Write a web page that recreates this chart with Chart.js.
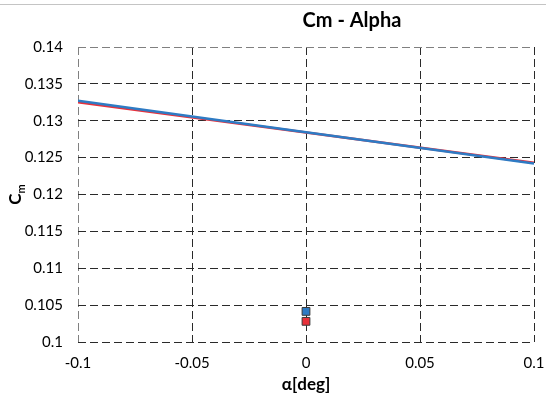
<!DOCTYPE html>
<html>
<head>
<meta charset="utf-8">
<script src="https://cdn.jsdelivr.net/npm/chart.js@4.4.0/dist/chart.umd.min.js"></script>
<style>
  body { margin: 0; background: #fff; }
  #wrap { position: relative; width: 546px; height: 399px; }
  #topline { position: absolute; left: 0; top: 4px; width: 546px; height: 1px; background: #c4c4c4; }
</style>
</head>
<body>
<div id="wrap">
  <canvas id="cm-alpha" width="546" height="399"></canvas>
  <div id="topline"></div>
</div>
<script>
// values
const alpha = [-0.1, 0, 0.1];
const cmLineBlue = [0.1327, 0.12845, 0.1242];
const cmLineRed = [0.1325, 0.1284, 0.1243];
const alphaPoint = [0];
const cmPointBlue = [0.10415];
const cmPointRed = [0.1028];

const xTicks = [-0.1, -0.05, 0, 0.05, 0.1];
const yTicks = [0.1, 0.105, 0.11, 0.115, 0.12, 0.125, 0.13, 0.135, 0.14];

const BLUE = "#2e7bc4";
const RED = "#e8313a";
const FONT = "Lato, 'Open Sans', sans-serif";

function toXY(xs, ys) {
  return xs.map((x, i) => ({ x: x, y: ys[i] }));
}

// titles drawn by hand (subscript on C_m)
const titles = {
  id: "titles",
  afterDraw(chart) {
    const ctx = chart.ctx;
    const area = chart.chartArea;
    ctx.save();
    ctx.fillStyle = "#000";
    ctx.textAlign = "center";
    ctx.textBaseline = "middle";
    ctx.font = "bold 20px " + FONT;
    ctx.fillText("Cm - Alpha", 352, 21);

    ctx.font = "bold 17px " + FONT;
    ctx.fillText("α[deg]", (area.left + area.right) / 2, 385);

    // y title, rotated
    ctx.translate(16, (area.top + area.bottom) / 2);
    ctx.rotate(-Math.PI / 2);
    ctx.textAlign = "left";
    ctx.font = "bold 17px " + FONT;
    const w = ctx.measureText("C").width;
    ctx.font = "bold 11px " + FONT;
    const w2 = ctx.measureText("m").width;
    const start = -(w + w2) / 2;
    ctx.font = "bold 17px " + FONT;
    ctx.fillText("C", start, 0);
    ctx.font = "bold 11px " + FONT;
    ctx.fillText("m", start + w, 5);
    ctx.restore();
  }
};

function gridColor(ctx) {
  if (ctx.index === 0) return "#808080";
  return "#2a2a2a";
}
function gridColorY(ctx) {
  if (ctx.tick && ctx.tick.value === 0.14) return "#808080";
  return "#2a2a2a";
}

let canvas = document.getElementById("cm-alpha").getContext("2d");
let chart = new Chart(canvas, {
  type: "scatter",
  data: {
    datasets: [
      {
        label: "point blue",
        data: toXY(alphaPoint, cmPointBlue),
        pointStyle: "rect",
        pointRadius: 5.5,
        backgroundColor: BLUE,
        borderColor: "#3a3a3a",
        borderWidth: 1,
      },
      {
        label: "point red",
        data: toXY(alphaPoint, cmPointRed),
        pointStyle: "rect",
        pointRadius: 5.5,
        backgroundColor: RED,
        borderColor: "#3a3a3a",
        borderWidth: 1,
      },
      {
        label: "line blue",
        data: toXY(alpha, cmLineBlue),
        showLine: true,
        borderColor: BLUE,
        borderWidth: 2.5,
        pointRadius: 0,
      },
      {
        label: "line red",
        data: toXY(alpha, cmLineRed),
        showLine: true,
        borderColor: RED,
        borderWidth: 2.5,
        pointRadius: 0,
      },
    ],
  },
  plugins: [titles],
  options: {
    responsive: false,
    animation: false,
    layout: { padding: { top: 47, right: 12, bottom: 0, left: 0 } },
    plugins: {
      legend: { display: false },
      tooltip: { enabled: false },
      title: { display: false },
    },
    scales: {
      x: {
        type: "linear",
        min: -0.1,
        max: 0.1,
        afterBuildTicks: (axis) => { axis.ticks = xTicks.map(v => ({ value: v })); },
        afterFit: (axis) => {
          axis.height = 57;
          axis.paddingLeft = 0;
          axis.paddingRight = 0;
        },
        ticks: {
          color: "#000",
          font: { family: FONT, size: 15 },
          padding: 12,
          maxRotation: 0,
          callback: (v) => String(Math.round(v * 1000) / 1000),
        },
        grid: { color: gridColor, lineWidth: 1, drawTicks: false },
        border: { display: false, dash: [8, 4] },
      },
      y: {
        type: "linear",
        min: 0.1,
        max: 0.14,
        afterBuildTicks: (axis) => { axis.ticks = yTicks.map(v => ({ value: v })); },
        afterFit: (axis) => {
          axis.width = 78;
          axis.paddingTop = 0;
          axis.paddingBottom = 0;
        },
        ticks: {
          color: "#000",
          font: { family: FONT, size: 15 },
          padding: 15,
          callback: (v) => String(Math.round(v * 1000) / 1000),
        },
        grid: { color: gridColorY, lineWidth: 1, drawTicks: false },
        border: { display: false, dash: [8, 4] },
      },
    },
  },
});
</script>
</body>
</html>
